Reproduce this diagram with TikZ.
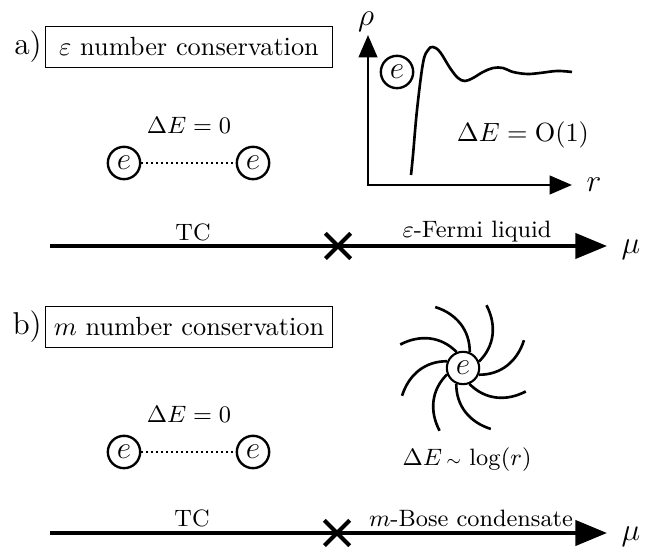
\documentclass[tikz,border=0pt]{standalone}
\usepackage{amsmath}
\usepackage{amssymb}
\usetikzlibrary{arrows.meta, positioning, shapes.misc}

\begin{document}
\begin{tikzpicture}[x=0.38pt, y=0.38pt,
    charge/.style={circle, draw, line width=0.9pt, inner sep=0pt, minimum size=12.3pt, font=\large},
    titlebox/.style={draw, line width=0.5pt, minimum width=109pt, minimum height=15.6pt, inner sep=2pt},
    phase/.style={line width=1.5pt, -{Triangle[length=12pt, width=9.5pt]}},
    axis/.style={line width=1.1pt, {Triangle[length=8.5pt, width=7pt]}-{Triangle[length=8.5pt, width=7pt]}},
    crossmark/.style={cross out, draw, line width=1.6pt, minimum size=8pt, inner sep=0pt},
    bond/.style={line width=0.6pt, dash pattern=on 0.8pt off 1.1pt},
    arm/.style={line width=1pt},
    lbl/.style={font=\small}]
    \useasboundingbox (0,0) rectangle (655,548);

    % a) epsilon conservation
    \node[titlebox] (boxa) at (189,501) {$\varepsilon$ number conservation};
    \node[left=0pt of boxa, inner sep=1pt, font=\large] (taga) {a)};
    \node[lbl] (dEa) at (189,423) {$\Delta E = 0$};
    \node[charge] (ea1) at (124,385) {$e$};
    \node[charge] (ea2) at (253,385) {$e$};
    \draw[bond] (ea1) -- (ea2);

    \coordinate (orig) at (368,363);
    \coordinate (ytip) at (368,513);
    \coordinate (xtip) at (572,363);
    \draw[axis] (ytip) -- (orig) -- (xtip);
    \node[font=\large, inner sep=0pt] (rho) at (366,526) {$\rho$};
    \node[right=2pt of xtip, font=\large] (rr) {$r$};
    \node[charge] (ep) at (397,476) {$e$};
    \draw[line width=1pt] plot[smooth, tension=0.6] coordinates {(411,373) (413,393) (417,438)
        (423,485) (428,498) (433,501) (440,496) (450,480) (458,470) (465,467) (473,470)
        (483,476) (493,480) (503,480) (513,476) (527,474) (540,475) (557,477) (572,476)};
    \node (dEp) at (523,413) {$\Delta E = \mathrm{O}(1)$};

    \coordinate (la0) at (50,302);
    \coordinate (la1) at (607,302);
    \draw[phase] (la0) -- (la1);
    \node[crossmark] (xa) at (338,302) {};
    \node[right=2pt of la1, yshift=-1.5pt, font=\large] (mua) {$\mu$};
    \node[lbl] (tca) at (193,316) {TC};
    \node[lbl] (fla) at (477,316) {$\varepsilon$-Fermi liquid};

    % b) m conservation
    \node[titlebox] (boxb) at (189,221) {$m$ number conservation};
    \node[left=0pt of boxb, inner sep=1pt, font=\large] (tagb) {b)};
    \node[lbl] (dEb) at (189,134) {$\Delta E = 0$};
    \node[charge] (eb1) at (124,96) {$e$};
    \node[charge] (eb2) at (253,96) {$e$};
    \draw[bond] (eb1) -- (eb2);

    \node[charge, line width=0.8pt] (star) at (463,180) {$e$};
    \foreach \a in {22.5,67.5,...,337.5}
        \draw[arm] (star.\a) to[out=\a+22, in=\a-85] ([shift={(\a+47:67)}]star.center);
    \node[lbl] (dEs) at (467,88) {$\Delta E\,{\scriptstyle\sim}\,\log(r)$};

    \coordinate (lb0) at (50,15);
    \coordinate (lb1) at (607,15);
    \draw[phase] (lb0) -- (lb1);
    \node[crossmark] (xb) at (337,15) {};
    \node[right=2pt of lb1, yshift=-1.5pt, font=\large] (mub) {$\mu$};
    \node[lbl] (tcb) at (192,30) {TC};
    \node[lbl] (bcb) at (471,30) {$m$-Bose condensate};
\end{tikzpicture}
\end{document}
